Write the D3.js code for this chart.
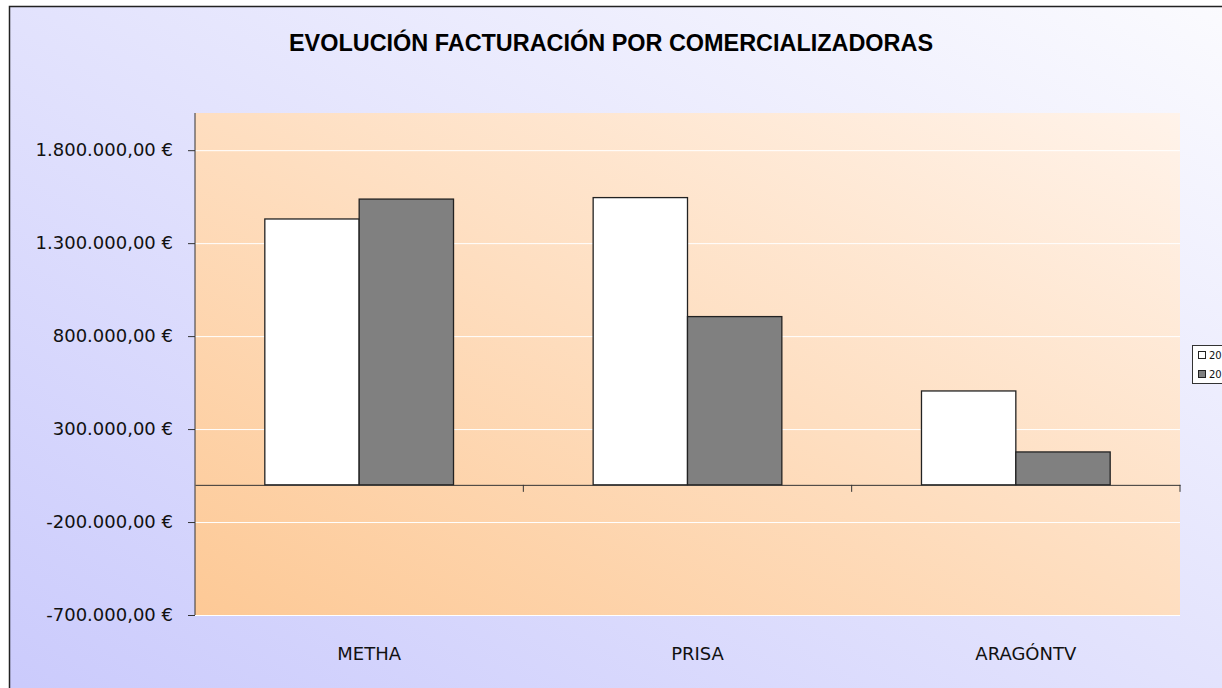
<meta charset="utf-8">
<style>body{margin:0;overflow:hidden}svg{display:block}</style>
<svg width="1222" height="688"></svg>
<script src="https://d3js.org/d3.v7.min.js"></script>
<script>
var categories = ["METHA", "PRISA", "ARAGÓNTV"];
var years = ["2010", "2011"];
var values2010 = [1430000, 1545000, 505000];
var values2011 = [1537000, 905000, 177000];
var tickValues = [-700000, -200000, 300000, 800000, 1300000, 1800000];

var data = categories.map(function(c, i) {
  return { cat: c, "2010": values2010[i], "2011": values2011[i] };
});

var svg = d3.select("svg");
var defs = svg.append("defs");

var bg = defs.append("linearGradient").attr("id", "bg")
  .attr("x1", "0%").attr("y1", "100%").attr("x2", "100%").attr("y2", "0%");
bg.append("stop").attr("offset", "0%").attr("stop-color", "#cacafc");
bg.append("stop").attr("offset", "100%").attr("stop-color", "#fbfbfe");

var pg = defs.append("linearGradient").attr("id", "plotbg")
  .attr("x1", "0%").attr("y1", "100%").attr("x2", "100%").attr("y2", "0%");
pg.append("stop").attr("offset", "0%").attr("stop-color", "#fdc996");
pg.append("stop").attr("offset", "100%").attr("stop-color", "#fff3ea");

svg.append("rect").attr("x", 9.5).attr("y", 6.5).attr("width", 1230).attr("height", 700)
  .attr("fill", "url(#bg)").attr("stroke", "#222").attr("stroke-width", 1.5);

var margin = {top: 113, right: 42, bottom: 73, left: 195};
var width = 1222, height = 688;

var x0 = d3.scaleBand().domain(categories)
  .range([margin.left, width - margin.right]).paddingInner(0).paddingOuter(0);
var x1 = d3.scaleBand().domain(years)
  .range([0, x0.bandwidth()]).paddingOuter(0.74).paddingInner(0);
var y = d3.scaleLinear().domain([-700000, 2000000])
  .range([615, margin.top]);

svg.append("rect").attr("x", margin.left).attr("y", margin.top)
  .attr("width", width - margin.right - margin.left).attr("height", y(-700000) - margin.top)
  .attr("fill", "url(#plotbg)");

// gridlines
svg.append("g").selectAll("line").data(tickValues).enter().append("line")
  .attr("x1", margin.left).attr("x2", width - margin.right)
  .attr("y1", function(d) { return y(d) + 0.5; }).attr("y2", function(d) { return y(d) + 0.5; })
  .attr("stroke", "#ffffff").attr("stroke-width", 1);

var fills = {"2010": "#ffffff", "2011": "#808080"};

svg.append("g").selectAll("g").data(data).enter().append("g")
  .attr("transform", function(d) { return "translate(" + x0(d.cat) + ",0)"; })
  .selectAll("rect")
  .data(function(d) { return years.map(function(k) { return {key: k, value: d[k]}; }); })
  .enter().append("rect")
    .attr("x", function(d) { return x1(d.key); })
    .attr("y", function(d) { return y(Math.max(0, d.value)); })
    .attr("width", x1.bandwidth())
    .attr("height", function(d) { return Math.abs(y(d.value) - y(0)); })
    .attr("fill", function(d) { return fills[d.key]; })
    .attr("stroke", "#222").attr("stroke-width", 1.3);

// y axis
var yAxis = svg.append("g")
  .attr("transform", "translate(" + margin.left + ",0)")
  .call(d3.axisLeft(y).tickValues(tickValues).tickSize(7).tickPadding(15)
    .tickFormat(function(d) {
      return d3.format(",.2f")(d).replace("−", "-").replace(/,/g, "X").replace(".", ",").replace(/X/g, ".") + " €";
    }));
yAxis.select(".domain").attr("d", "M0," + margin.top + "V" + y(-700000)).attr("stroke", "#333");
yAxis.selectAll(".tick line").attr("stroke", "#333");
yAxis.selectAll("text").attr("font-family", "DejaVu Sans").attr("font-size", "18px").attr("fill", "#111");

// zero axis with category ticks
var xAxis = svg.append("g")
  .attr("transform", "translate(0," + y(0) + ")")
  .call(d3.axisBottom(x0).tickSize(0).tickFormat(""));
xAxis.select(".domain").attr("stroke", "#333");
xAxis.selectAll(".tick").remove();
xAxis.selectAll(".sep").data(categories).enter().append("line")
  .attr("x1", function(d) { return x0(d) + x0.bandwidth(); })
  .attr("x2", function(d) { return x0(d) + x0.bandwidth(); })
  .attr("y1", 0).attr("y2", 7).attr("stroke", "#333");

// category labels (sit a little right of the band centre)
svg.append("g").selectAll("text").data(categories).enter().append("text")
  .attr("x", function(d) { return x0(d) + x0.bandwidth() / 2 + 10; })
  .attr("y", 660)
  .attr("text-anchor", "middle")
  .attr("font-family", "DejaVu Sans").attr("font-size", "18px").attr("fill", "#111")
  .text(function(d) { return d; });

// title
svg.append("text").attr("x", 611).attr("y", 51).attr("text-anchor", "middle")
  .attr("font-family", "Liberation Sans, Arial").attr("font-weight", "bold")
  .attr("font-size", "23px").attr("fill", "#000")
  .attr("textLength", 644).attr("lengthAdjust", "spacingAndGlyphs")
  .text("EVOLUCIÓN FACTURACIÓN POR COMERCIALIZADORAS");

// legend (cut by the right edge, as in the original)
var legend = svg.append("g").attr("transform", "translate(1192,345)");
legend.append("rect").attr("x", 0.5).attr("y", 0.5).attr("width", 60).attr("height", 38)
  .attr("fill", "#ffffff").attr("stroke", "#333");
years.forEach(function(k, i) {
  legend.append("rect").attr("x", 6.5).attr("y", 6.5 + i * 19).attr("width", 7).attr("height", 7)
    .attr("fill", fills[k]).attr("stroke", "#222");
  legend.append("text").attr("x", 17).attr("y", 14 + i * 19)
    .attr("font-family", "DejaVu Sans").attr("font-size", "10px").attr("fill", "#111")
    .text(k);
});
</script>
